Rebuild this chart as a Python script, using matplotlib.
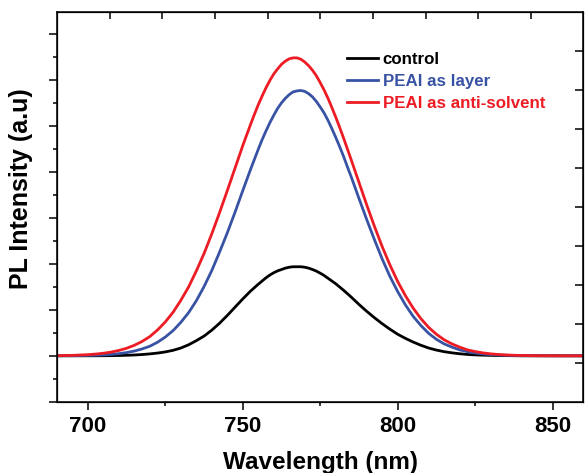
import matplotlib
matplotlib.use("Agg")
import matplotlib.pyplot as plt
from matplotlib.ticker import MultipleLocator

plt.rcParams['font.family'] = ['Liberation Sans', 'DejaVu Sans']
plt.rcParams['font.weight'] = 'bold'

# wavelength grid (nm), finer around the peaks
wavelength = [690, 695, 700,
              702.5, 705, 707.5, 710, 712.5, 715, 717.5, 720, 722.5, 725,
              727.5, 730, 732.5, 735, 737.5, 740, 742.5, 745, 747.5, 750,
              752.5, 753.75, 755, 756.25, 757.5, 758.75, 760, 761.25, 762.5, 763.75,
              765, 766.25, 767.5, 768.75, 770, 771.25, 772.5, 773.75, 775, 776.25,
              777.5, 778.75, 780, 781.25, 782.5, 783.75, 785, 787.5, 790, 792.5,
              795, 797.5, 800, 802.5, 805, 807.5, 810, 812.5, 815, 817.5,
              820, 822.5, 825, 827.5, 830, 832.5, 835, 837.5, 840, 845,
              850, 855, 860]

control = [0, 0, 0,
           0.001, 0.002, 0.004, 0.007, 0.012, 0.018, 0.028, 0.042, 0.060, 0.085,
           0.12, 0.17, 0.24, 0.33, 0.43, 0.56, 0.71, 0.88, 1.06, 1.24,
           1.41, 1.485, 1.56, 1.63, 1.70, 1.76, 1.81, 1.85, 1.88, 1.91,
           1.93, 1.94, 1.94, 1.94, 1.93, 1.91, 1.88, 1.845, 1.80, 1.75,
           1.69, 1.63, 1.57, 1.50, 1.43, 1.355, 1.28, 1.12, 0.97, 0.83,
           0.70, 0.58, 0.47, 0.38, 0.30, 0.23, 0.17, 0.125, 0.09, 0.065,
           0.045, 0.03, 0.02, 0.014, 0.01, 0.006, 0.004, 0.002, 0, 0,
           0, 0, 0]

peai_layer = [0.001, 0.003, 0.008,
              0.013, 0.020, 0.031, 0.047, 0.071, 0.104, 0.150, 0.21, 0.297, 0.41,
              0.55, 0.73, 0.94, 1.20, 1.51, 1.86, 2.26, 2.68, 3.13, 3.60,
              4.06, 4.28, 4.50, 4.71, 4.90, 5.08, 5.24, 5.39, 5.51, 5.61,
              5.69, 5.75, 5.77, 5.78, 5.76, 5.71, 5.64, 5.54, 5.42, 5.29,
              5.13, 4.95, 4.76, 4.56, 4.35, 4.12, 3.90, 3.43, 2.97, 2.53,
              2.11, 1.73, 1.40, 1.11, 0.86, 0.66, 0.49, 0.36, 0.26, 0.19,
              0.13, 0.091, 0.061, 0.041, 0.027, 0.017, 0.011, 0.007, 0.004, 0.001,
              0, 0, 0]

peai_antisolvent = [0.004, 0.010, 0.025,
                    0.038, 0.056, 0.081, 0.117, 0.165, 0.23, 0.314, 0.42, 0.565, 0.74,
                    0.95, 1.21, 1.50, 1.85, 2.23, 2.66, 3.12, 3.60, 4.09, 4.58,
                    5.04, 5.26, 5.47, 5.66, 5.84, 6.00, 6.14, 6.25, 6.35, 6.42,
                    6.47, 6.49, 6.49, 6.46, 6.40, 6.32, 6.22, 6.10, 5.95, 5.79,
                    5.61, 5.41, 5.20, 4.98, 4.75, 4.51, 4.27, 3.78, 3.29, 2.82,
                    2.38, 1.98, 1.62, 1.31, 1.04, 0.81, 0.62, 0.47, 0.35, 0.26,
                    0.19, 0.13, 0.093, 0.064, 0.043, 0.029, 0.019, 0.012, 0.008, 0.003,
                    0.001, 0, 0]

labels = ['control', 'PEAI as layer', 'PEAI as anti-solvent']
colors = ['black', '#3953a4', '#ed1c24']

fig = plt.figure(figsize=(5.85, 4.73), dpi=100)
ax = fig.add_axes([0.0974, 0.1507, 0.9, 0.824])

for y, lab, c in zip([control, peai_layer, peai_antisolvent], labels, colors):
    ax.plot(wavelength, y, color=c, lw=2, label=lab, solid_joinstyle='round')

ax.set_xlim(690, 860)
ax.set_ylim(-1, 7.49)
ax.xaxis.set_major_locator(MultipleLocator(50))
ax.xaxis.set_minor_locator(MultipleLocator(25))
ax.yaxis.set_major_locator(MultipleLocator(1))
ax.yaxis.set_minor_locator(MultipleLocator(0.5))
ax.tick_params(which='major', direction='out', length=6, width=1.1, labelsize=16)
ax.tick_params(which='minor', direction='out', length=3, width=1.1)
ax.tick_params(axis='y', which='both', labelleft=False)
ax.tick_params(axis='x', pad=4)
for s in ax.spines.values():
    s.set_linewidth(1.1)

# top and right frame ticks (10 equal divisions, no labels)
top = ax.twiny()
top.set_xlim(0, 10)
top.set_xticks(range(1, 10))
top.tick_params(direction='in', length=5, width=1.1, labeltop=False)
right = ax.twinx()
right.set_ylim(0, 10)
right.set_yticks(range(1, 10))
right.tick_params(direction='in', length=5.5, width=1.1, labelright=False)

ax.set_xlabel('Wavelength (nm)', fontsize=17.5, fontweight='bold', labelpad=10.5)
ax.set_ylabel('PL Intensity (a.u)', fontsize=18, fontweight='bold')
ax.yaxis.set_label_coords(-0.046, 0.546)

leg = ax.legend(loc='upper left', bbox_to_anchor=(0.55, 0.898), frameon=False,
                fontsize=12.2, handlelength=1.86, handletextpad=0.28,
                labelspacing=0.42, borderpad=0, borderaxespad=0)
for t, c in zip(leg.get_texts(), colors):
    t.set_color(c)

fig.savefig('out.png', dpi=100)
